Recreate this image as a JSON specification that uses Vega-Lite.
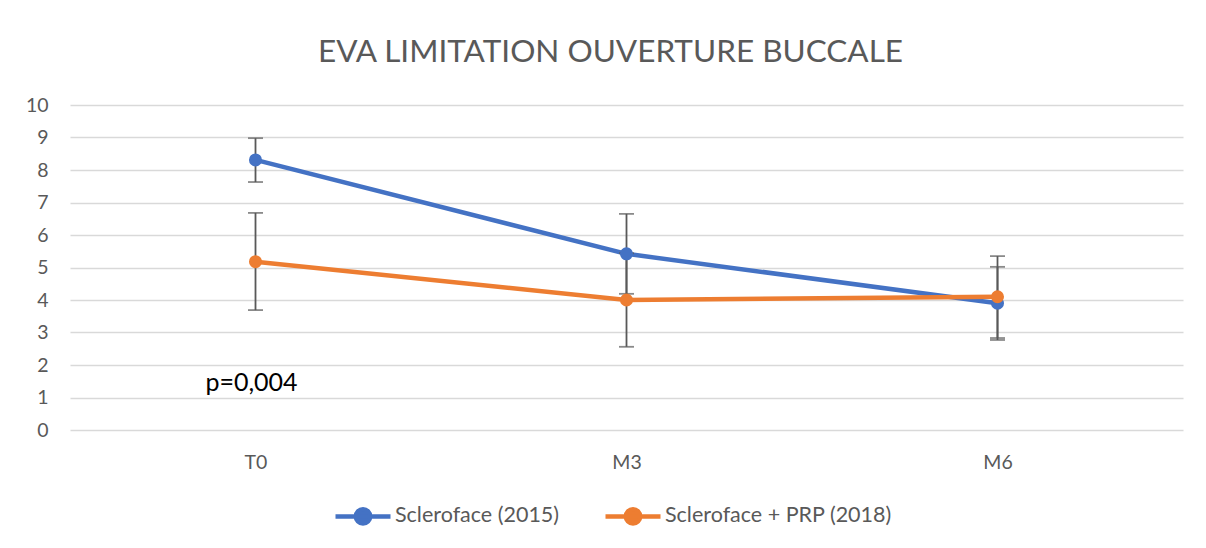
{
  "$schema": "https://vega.github.io/schema/vega-lite/v6.json",
  "width": 1113,
  "height": 325,
  "autosize": {"type": "none"},
  "padding": {"left": 70, "top": 105, "right": 23, "bottom": 118},
  "background": "white",
  "title": {
    "text": "EVA LIMITATION OUVERTURE BUCCALE",
    "font": "Lato",
    "fontSize": 31.5,
    "fontWeight": "normal",
    "color": "#595959",
    "anchor": "middle",
    "dx": -16,
    "offset": 27
  },
  "config": {
    "font": "Lato",
    "view": {"stroke": null},
    "axisX": {
      "title": null,
      "labelAngle": 0,
      "labelFontSize": 19.5,
      "labelColor": "#595959",
      "ticks": false,
      "domain": false,
      "labelPadding": 23,
      "grid": false
    },
    "axisY": {
      "title": null,
      "labelFontSize": 19.5,
      "labelColor": "#595959",
      "ticks": false,
      "domain": false,
      "labelPadding": 22,
      "gridColor": "#d9d9d9",
      "gridWidth": 1.3
    }
  },
  "data": {
    "values": [
      {"time": "T0", "series": "Scleroface (2015)", "mean": 8.31, "lo": 7.63, "hi": 8.98},
      {"time": "M3", "series": "Scleroface (2015)", "mean": 5.42, "lo": 4.19, "hi": 6.65},
      {"time": "M6", "series": "Scleroface (2015)", "mean": 3.9, "lo": 2.77, "hi": 5.02},
      {"time": "T0", "series": "Scleroface + PRP (2018)", "mean": 5.18, "lo": 3.69, "hi": 6.68},
      {"time": "M3", "series": "Scleroface + PRP (2018)", "mean": 4.0, "lo": 2.56, "hi": 5.44},
      {"time": "M6", "series": "Scleroface + PRP (2018)", "mean": 4.1, "lo": 2.83, "hi": 5.35}
    ]
  },
  "encoding": {
    "x": {
      "field": "time",
      "type": "nominal",
      "sort": ["T0", "M3", "M6"],
      "scale": {"type": "point", "padding": 0.5},
      "axis": {"labelFontSize": 19.5}
    },
    "y": {
      "field": "mean",
      "type": "quantitative",
      "scale": {"domain": [0, 10], "nice": false},
      "axis": {"tickCount": 10, "labelOverlap": false, "labelSeparation": 0, "labelFontSize": 19.5}
    }
  },
  "layer": [
    {
      "mark": {"type": "line", "strokeWidth": 4.5},
      "encoding": {
        "color": {
          "field": "series",
          "type": "nominal",
          "scale": {"domain": ["Scleroface (2015)", "Scleroface + PRP (2018)"], "range": ["#4472C4", "#ED7D31"]},
          "legend": {
            "title": null,
            "orient": "none",
            "legendX": 263,
            "legendY": 381,
            "direction": "horizontal",
            "labelFontSize": 21.5,
            "labelColor": "#595959",
            "labelLimit": 0,
            "labelOffset": 2,
            "columnPadding": 36,
            "symbolType": "M-1,0L1,0M0.26,0A0.26,0.26,0,1,1,-0.26,0A0.26,0.26,0,1,1,0.26,0Z",
            "symbolSize": 3025,
            "symbolStrokeWidth": 4.5
          }
        }
      }
    },
    {
      "mark": {"type": "rule", "color": "#595959", "strokeWidth": 1.8},
      "encoding": {
        "y": {"field": "lo", "type": "quantitative", "axis": {"tickCount": 10, "labelOverlap": false, "labelSeparation": 0, "labelFontSize": 19.5}},
        "y2": {"field": "hi"},
        "detail": {"field": "series"}
      }
    },
    {
      "mark": {"type": "tick", "color": "#595959", "thickness": 1.8, "size": 15},
      "encoding": {
        "y": {"field": "lo", "type": "quantitative", "axis": {"tickCount": 10, "labelOverlap": false, "labelSeparation": 0, "labelFontSize": 19.5}},
        "detail": {"field": "series"}
      }
    },
    {
      "mark": {"type": "tick", "color": "#595959", "thickness": 1.8, "size": 15},
      "encoding": {
        "y": {"field": "hi", "type": "quantitative", "axis": {"tickCount": 10, "labelOverlap": false, "labelSeparation": 0, "labelFontSize": 19.5}},
        "detail": {"field": "series"}
      }
    },
    {
      "mark": {"type": "point", "filled": true, "size": 170, "opacity": 1},
      "encoding": {
        "color": {"field": "series", "type": "nominal", "legend": null}
      }
    },
    {
      "data": {"values": [{"time": "T0", "v": 1.45, "label": "p=0,004"}]},
      "mark": {"type": "text", "fontSize": 25, "color": "#000000", "align": "center", "baseline": "middle", "dx": -4},
      "encoding": {
        "y": {"field": "v", "type": "quantitative", "axis": {"tickCount": 10, "labelOverlap": false, "labelSeparation": 0, "labelFontSize": 19.5}},
        "text": {"field": "label"}
      }
    }
  ]
}
